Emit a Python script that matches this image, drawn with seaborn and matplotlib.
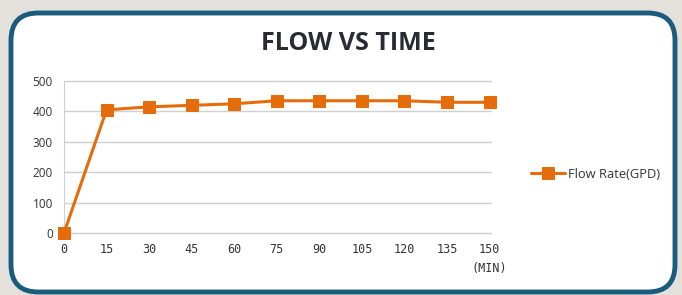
import matplotlib
matplotlib.use("Agg")
import matplotlib.pyplot as plt
import seaborn as sns
import pandas as pd
from matplotlib.patches import FancyBboxPatch

time_min = [0, 15, 30, 45, 60, 75, 90, 105, 120, 135, 150]
flow_gpd = [0, 405, 415, 420, 425, 435, 435, 435, 435, 430, 430]
y_ticks = [0, 100, 200, 300, 400, 500]
series_name = "Flow Rate(GPD)"
title = "FLOW VS TIME"

df = pd.DataFrame({"time": time_min, "flow": flow_gpd, "series": series_name})

sns.set_style("white")
plt.rcParams["font.family"] = ["Open Sans", "DejaVu Sans"]

fig = plt.figure(figsize=(6.82, 2.95), dpi=100)
fig.patch.set_facecolor("#e4e0dc")

# rounded white panel with blue border
panel = FancyBboxPatch((11 / 682, 3 / 295), 664 / 682, 279 / 295,
                       boxstyle="round,pad=0,rounding_size=0.04",
                       transform=fig.transFigure, facecolor="white",
                       edgecolor="#1b5c7c", linewidth=3.5, zorder=-5,
                       mutation_aspect=682 / 295)
fig.patches.append(panel)

ax = fig.add_axes([64 / 682, 1 - 233 / 295, 427 / 682, 152 / 295])
ax.set_zorder(2)
ax.set_facecolor("none")
color = "#e46c0a"
sns.lineplot(data=df, x="time", y="flow", hue="series", palette=[color],
             marker="s", markersize=8, markeredgecolor=color, linewidth=2.2,
             ax=ax, legend=True, clip_on=False, zorder=3)

ax.set_xlim(0, 150.5)
ax.set_ylim(0, 500)
ax.set_xticks(time_min)
ax.set_yticks(y_ticks)
ax.set_xticklabels([str(t) for t in time_min], fontsize=8.5, color="#333333",
                   fontfamily="DejaVu Sans Mono")
ax.set_yticklabels([str(v) for v in y_ticks], fontsize=8.5, color="#333333")
ax.tick_params(axis="x", length=0, pad=7)
ax.tick_params(axis="y", length=0, pad=8)
ax.grid(axis="y", color="#d0d0d0", linewidth=1)
for gl in ax.get_ygridlines():
    gl.set_clip_on(False)
for s in ["top", "right", "bottom"]:
    ax.spines[s].set_visible(False)
ax.spines["left"].set_color("#d0d0d0")
ax.set_xlabel("")
ax.set_ylabel("")

ax.text(150, -0.19, "(MIN)", transform=ax.get_xaxis_transform(), ha="center",
        va="top", fontsize=8.5, color="#333333", fontfamily="DejaVu Sans Mono")

fig.text(348 / 682, 1 - 43 / 295, title, ha="center", va="center",
         fontsize=18, fontweight="bold", color="#2a2a33")

leg = ax.legend(loc="center left", bbox_to_anchor=(531 / 682, 1 - 174 / 295),
                bbox_transform=fig.transFigure, frameon=False, fontsize=9.3,
                handlelength=2.6, handletextpad=0.3, borderaxespad=0,
                borderpad=0)
for t in leg.get_texts():
    t.set_color("#333333")

fig.savefig("out.png", dpi=100, facecolor=fig.get_facecolor())
